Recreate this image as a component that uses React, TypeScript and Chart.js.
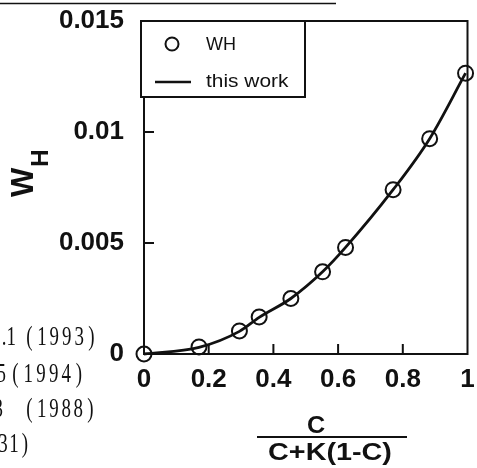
import React, { useEffect, useRef } from "react";
import { Chart, registerables } from "chart.js";

Chart.register(...registerables);

// ---- data ----
const whC = [0, 0.17, 0.295, 0.356, 0.454, 0.552, 0.623, 0.77, 0.883, 0.994];
const whW = [0, 0.00032, 0.00104, 0.00167, 0.0025, 0.0037, 0.0048, 0.0074, 0.0097, 0.01265];
const workC = [0, 0.17, 0.295, 0.356, 0.454, 0.552, 0.623, 0.77, 0.883, 0.994];
const workW = [0, 0.0003, 0.00102, 0.00165, 0.0025, 0.0037, 0.0048, 0.0074, 0.0097, 0.01265];
const xTicks = [0, 0.2, 0.4, 0.6, 0.8, 1];
const xTickLabels = ["0", "0.2", "0.4", "0.6", "0.8", "1"];
const yTicks = [0, 0.005, 0.01, 0.015];
const yTickLabels = ["0", "0.005", "0.01", "0.015"];
const legendLabels = ["WH", "this work"];
const xTitleNum = "C";
const xTitleDen = "C+K(1-C)";
const yTitleMain = "W";
const yTitleSub = "H";
const notePrefixes = [".1", "5", "3", ""];
const noteYears = ["(1993)", "(1994)", "(1988)", "31)"];

// layout of the cropped side notes (end of prefix, first char of year part, pitch, baseline)
const noteLayout = [
  { pEnd: 16, yStart: 29.5, pitch: 12.4, base: 345 },
  { pEnd: 6, yStart: 15.5, pitch: 12.7, base: 382 },
  { pEnd: 3, yStart: 29.5, pitch: 12.2, base: 417 },
  { pEnd: 0, yStart: 3, pitch: 11, base: 452 },
];

const INK = "#111";
const SANS = "'Liberation Sans', Arial, Helvetica, sans-serif";
const SERIF = "'Liberation Serif', 'Times New Roman', serif";

function stretchText(ctx: CanvasRenderingContext2D, text: string, x: number, y: number, font: string, align: CanvasTextAlign, sx: number) {
  ctx.save();
  ctx.font = font;
  ctx.textAlign = align;
  ctx.textBaseline = "alphabetic";
  ctx.translate(x, y);
  ctx.scale(sx, 1);
  ctx.fillText(text, 0, 0);
  ctx.restore();
}

const framePlugin = {
  id: "frame",
  beforeDatasetsDraw(chart: any) {
    const { ctx, chartArea: a, scales } = chart;
    ctx.save();
    ctx.strokeStyle = INK;
    ctx.lineWidth = 2;
    ctx.strokeRect(a.left, a.top, a.right - a.left, a.bottom - a.top);
    ctx.beginPath();
    for (const v of xTicks.slice(1, -1)) {
      const px = scales.x.getPixelForValue(v);
      ctx.moveTo(px, a.bottom);
      ctx.lineTo(px, a.bottom - 10);
    }
    for (const v of yTicks.slice(1, -1)) {
      const py = scales.y.getPixelForValue(v);
      ctx.moveTo(a.left, py);
      ctx.lineTo(a.left + 10, py);
    }
    ctx.stroke();
    ctx.restore();
  },
  afterDraw(chart: any) {
    const { ctx, chartArea: a } = chart;
    ctx.save();
    ctx.fillStyle = INK;
    ctx.strokeStyle = INK;

    // legend box
    const lx = a.left - 3, ly = a.top, lw = 164, lh = 76;
    ctx.fillStyle = "#fff";
    ctx.fillRect(lx, ly, lw, lh);
    ctx.lineWidth = 2;
    ctx.strokeRect(lx, ly, lw, lh);
    ctx.fillStyle = INK;
    ctx.beginPath();
    ctx.arc(172, 44, 6.5, 0, Math.PI * 2);
    ctx.stroke();
    ctx.lineWidth = 2.5;
    ctx.beginPath();
    ctx.moveTo(155, 82);
    ctx.lineTo(191, 82);
    ctx.stroke();
    stretchText(ctx, legendLabels[0], 206, 50, `18px ${SANS}`, "left", 1.0);
    stretchText(ctx, legendLabels[1], 206, 87, `19px ${SANS}`, "left", 1.1);

    // y title W_H (rotated)
    ctx.save();
    ctx.translate(33, 197);
    ctx.rotate(-Math.PI / 2);
    ctx.font = `bold 31px ${SANS}`;
    ctx.textAlign = "left";
    ctx.textBaseline = "alphabetic";
    ctx.fillText(yTitleMain, 0, 0);
    const ww = ctx.measureText(yTitleMain).width;
    ctx.font = `bold 24px ${SANS}`;
    ctx.fillText(yTitleSub, ww + 1, 15);
    ctx.restore();

    // x title fraction
    stretchText(ctx, xTitleNum, 316, 433, `bold 24px ${SANS}`, "center", 1.05);
    ctx.lineWidth = 2;
    ctx.beginPath();
    ctx.moveTo(257, 437);
    ctx.lineTo(407, 437);
    ctx.stroke();
    stretchText(ctx, xTitleDen, 330, 460, `bold 23px ${SANS}`, "center", 1.25);

    // cropped side notes
    noteLayout.forEach((L, i) => {
      if (notePrefixes[i]) {
        stretchText(ctx, notePrefixes[i], L.pEnd, L.base, `27px ${SERIF}`, "right", 0.7);
      }
      const s = noteYears[i];
      for (let k = 0; k < s.length; k++) {
        stretchText(ctx, s[k], L.yStart + k * L.pitch, L.base, `27px ${SERIF}`, "center", 0.7);
      }
    });

    // scanned rule at top
    ctx.lineWidth = 1.5;
    ctx.beginPath();
    ctx.moveTo(0, 3.5);
    ctx.lineTo(336, 3.5);
    ctx.stroke();
    ctx.restore();
  },
};

export default function App() {
  const ref = useRef<HTMLCanvasElement | null>(null);
  useEffect(() => {
    document.body.style.margin = "0";
    const canvas = ref.current;
    if (!canvas) return;
    const tickFont = { family: SANS, size: 26, weight: "bold" as const };
    const chart = new Chart(canvas, {
      type: "scatter",
      data: {
        datasets: [
          {
            label: legendLabels[1],
            data: workC.map((x, i) => ({ x, y: workW[i] })),
            showLine: true,
            pointRadius: 0,
            borderColor: INK,
            borderWidth: 2.8,
            cubicInterpolationMode: "monotone",
            clip: false,
            order: 2,
          } as any,
          {
            label: legendLabels[0],
            data: whC.map((x, i) => ({ x, y: whW[i] })),
            showLine: false,
            pointRadius: 7.5,
            pointBorderWidth: 2,
            pointBackgroundColor: "rgba(0,0,0,0)",
            pointBorderColor: INK,
            clip: false,
            order: 1,
          } as any,
        ],
      },
      options: {
        animation: false,
        responsive: false,
        devicePixelRatio: 1,
        layout: { padding: { top: 21, right: 6, left: 0, bottom: 0 } },
        plugins: { legend: { display: false }, tooltip: { enabled: false } },
        scales: {
          x: {
            type: "linear",
            min: 0,
            max: 1,
            afterBuildTicks: (s: any) => {
              s.ticks = xTicks.map((v) => ({ value: v }));
            },
            afterFit: (s: any) => {
              s.height = 114;
              s.paddingLeft = 0;
              s.paddingRight = 0;
              s.paddingTop = 0;
              s.paddingBottom = 0;
            },
            ticks: {
              callback: (_v: any, i: number) => xTickLabels[i],
              font: tickFont,
              color: INK,
              padding: 10,
              maxRotation: 0,
              autoSkip: false,
            },
            grid: { display: false, drawTicks: false },
            border: { display: false },
          },
          y: {
            type: "linear",
            min: 0,
            max: 0.015,
            afterBuildTicks: (s: any) => {
              s.ticks = yTicks.map((v) => ({ value: v }));
            },
            afterFit: (s: any) => {
              s.width = 144;
              s.paddingLeft = 0;
              s.paddingRight = 0;
              s.paddingTop = 0;
              s.paddingBottom = 0;
            },
            ticks: {
              callback: (_v: any, i: number) => yTickLabels[i],
              font: tickFont,
              color: INK,
              padding: 20,
              autoSkip: false,
            },
            grid: { display: false, drawTicks: false },
            border: { display: false },
          },
        },
      } as any,
      plugins: [framePlugin],
    });
    return () => chart.destroy();
  }, []);
  return (
    <div style={{ width: 477, height: 468, background: "#fff" }}>
      <canvas ref={ref} width={477} height={468} style={{ display: "block" }} />
    </div>
  );
}
